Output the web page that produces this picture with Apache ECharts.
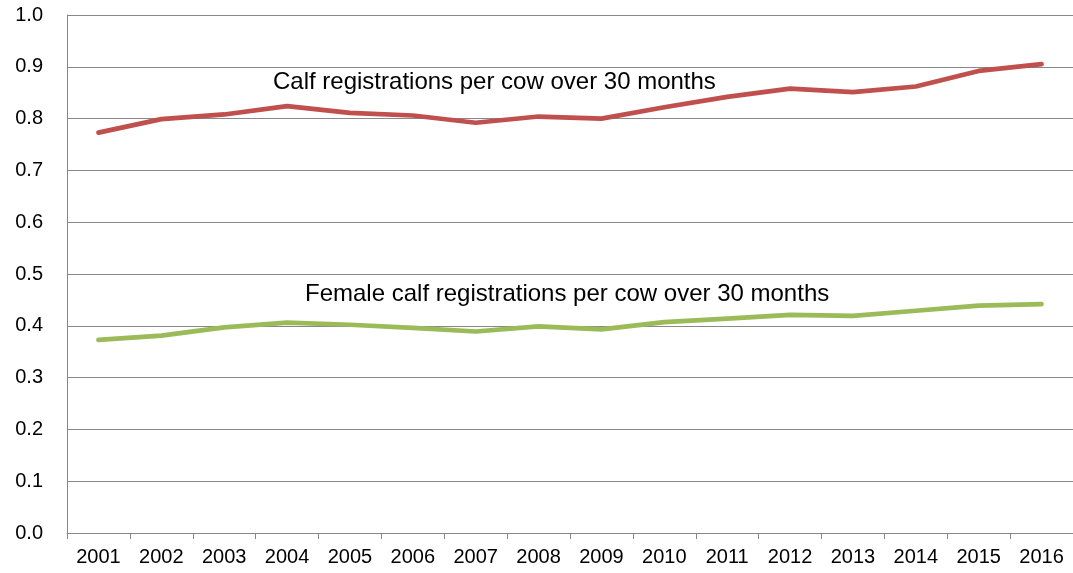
<!DOCTYPE html>
<html>
<head>
<meta charset="utf-8">
<script src="https://cdn.jsdelivr.net/npm/echarts@6/dist/echarts.min.js"></script>
<style>
  html, body { margin: 0; padding: 0; background: #fff; }
  #chart { width: 1073px; height: 573px; }
</style>
</head>
<body>
<div id="chart"></div>
<script>
// years on the x axis
const years = ['2001', '2002', '2003', '2004', '2005', '2006', '2007', '2008',
  '2009', '2010', '2011', '2012', '2013', '2014', '2015', '2016']

// calf registrations per cow over 30 months
const calfPerCow = [0.773, 0.799, 0.808, 0.824, 0.811, 0.806, 0.792, 0.804,
  0.800, 0.822, 0.842, 0.858, 0.851, 0.862, 0.892, 0.905]

// female calf registrations per cow over 30 months
const femaleCalfPerCow = [0.373, 0.381, 0.397, 0.406, 0.402, 0.396, 0.389, 0.399,
  0.393, 0.407, 0.414, 0.421, 0.419, 0.429, 0.439, 0.442]

const calfLabel = 'Calf registrations per cow over 30 months'
const femaleLabel = 'Female calf registrations per cow over 30 months'

const FONT = '"Liberation Sans", Arial, sans-serif'
const GRID_GRAY = '#888888'

const chart = echarts.init(document.getElementById('chart'))

chart.setOption({
  animation: false,
  grid: {
    left: 67,
    right: -5,
    top: 15,
    bottom: 40,
  },
  xAxis: {
    type: 'category',
    data: years,
    axisLine: { lineStyle: { color: GRID_GRAY, width: 1 } },
    axisTick: { show: true, length: 6, lineStyle: { color: GRID_GRAY } },
    axisLabel: {
      color: '#000',
      fontFamily: FONT,
      fontSize: 20,
      margin: 14,
      interval: 0,
    },
  },
  yAxis: {
    type: 'value',
    min: 0,
    max: 1,
    interval: 0.1,
    axisLine: { show: true, lineStyle: { color: GRID_GRAY, width: 1 } },
    axisTick: { show: false },
    splitLine: { lineStyle: { color: GRID_GRAY, width: 1 } },
    axisLabel: {
      color: '#000',
      fontFamily: FONT,
      fontSize: 20,
      margin: 24,
      formatter: (v) => v.toFixed(1),
    },
  },
  series: [
    {
      name: calfLabel,
      type: 'line',
      data: calfPerCow,
      symbol: 'none',
      lineStyle: { color: '#C0504D', width: 4.7, cap: 'round', join: 'round' },
    },
    {
      name: femaleLabel,
      type: 'line',
      data: femaleCalfPerCow,
      symbol: 'none',
      lineStyle: { color: '#9BBB59', width: 4.7, cap: 'round', join: 'round' },
    },
  ],
  graphic: [
    {
      type: 'text',
      left: 273,
      top: 70,
      style: { text: calfLabel, font: '24px ' + FONT, fill: '#000' },
    },
    {
      type: 'text',
      left: 305,
      top: 282,
      style: { text: femaleLabel, font: '24px ' + FONT, fill: '#000' },
    },
  ],
})
</script>
</body>
</html>
